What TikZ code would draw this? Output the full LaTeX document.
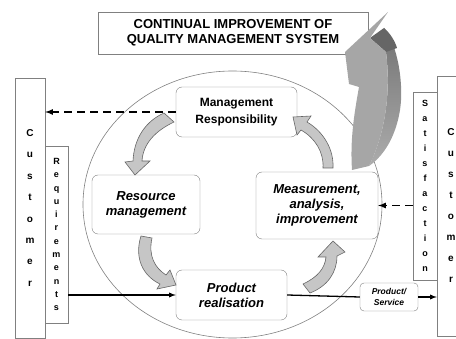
\documentclass[tikz,border=0pt]{standalone}
\usepackage{fontspec}
\setmainfont{Liberation Sans}
\begin{document}
\begin{tikzpicture}[x=1pt,y=-1pt,>=latex,
  box/.style={draw=gray,fill=white,rounded corners=6pt,align=center,
    font=\bfseries\itshape\fontsize{13}{15}\selectfont},
  bar/.style={draw=gray,fill=white,align=center,inner sep=0pt},
  garrow/.style={fill=gray!45,draw=gray!80!black,line width=0.6pt},
  dashline/.style={->,line width=1.6pt,dash pattern=on 8pt off 5pt}]
  \useasboundingbox (0,0) rectangle (456,339);
  \draw[gray,line width=0.6pt] (232.5,204.5) ellipse [x radius=149.5pt,y radius=133.5pt];
  \node[draw=gray,fill=white,minimum width=270pt,minimum height=42pt,align=center,
    font=\bfseries\fontsize{13}{15}\selectfont] (cimqms) at (233,33)
    {CONTINUAL IMPROVEMENT OF\\QUALITY MANAGEMENT SYSTEM};
  % customer columns
  \node[bar,minimum width=30pt,minimum height=260pt,font=\bfseries\fontsize{10}{21.4}\selectfont]
    (cust1) at (30,208) {C\\u\\s\\t\\o\\m\\e\\r};
  \node[bar,minimum width=23pt,minimum height=177pt,font=\bfseries\fontsize{9}{13.3}\selectfont]
    (req) at (56.5,234.5) {R\\e\\q\\u\\i\\r\\e\\m\\e\\n\\t\\s};
  \node[bar,minimum width=24pt,minimum height=188pt,font=\bfseries\fontsize{9}{15}\selectfont]
    (sat) at (425,186) {S\\a\\t\\i\\s\\f\\a\\c\\t\\i\\o\\n};
  \node[bar,minimum width=28pt,minimum height=260pt,font=\bfseries\fontsize{10}{21}\selectfont]
    (cust2) at (451,206) {C\\u\\s\\t\\o\\m\\e\\r};
  % processes
  \node[box,minimum width=121pt,minimum height=50pt,font=\bfseries\fontsize{12}{17}\selectfont]
    (mr) at (236.5,112) {Management\\Responsibility};
  \node[box,minimum width=108pt,minimum height=59pt] (rm) at (146,204.5) {Resource\\management};
  \node[box,minimum width=122pt,minimum height=67pt] (mai) at (317,205.5)
    {Measurement,\\analysis,\\improvement};
  \node[box,minimum width=111pt,minimum height=50pt] (pr) at (231.5,295) {Product\\realisation};
  \node[box,rounded corners=4pt,minimum width=58pt,minimum height=28pt,inner sep=1pt,
    font=\bfseries\itshape\fontsize{8.5}{11}\selectfont] (ps) at (389,297) {Product/\\Service};
  \draw[->,line width=1.3pt] (req.east |- pr.west) -- (pr.west);
  \draw[line width=1.3pt] (pr.east) -- (ps.west);
  \draw[->,line width=1.3pt] (ps.east) -- (cust2.west |- ps.east);
  \draw[dashline] (mr.west) -- (cust1.east |- mr.west);
  \draw[dashline] (sat.west |- mai.east) -- (mai.east);
  % cycle arrows
  \draw[garrow] (164,113) .. controls (146,121) and (134,138) .. (133,161) -- (125,162)
    -- (135,175) -- (150,161) -- (142,161) .. controls (143,144) and (155,131) .. (174,122) -- cycle;
  \draw[garrow] (141,236) .. controls (134,258) and (143,276) .. (160,284) -- (157,289)
    -- (176,285) -- (170,270) -- (166,275) .. controls (155,268) and (148,256) .. (152,238) -- cycle;
  \draw[garrow] (310,293) .. controls (328,286) and (337,272) .. (337,256) -- (345,252)
    -- (333,241) -- (318,257) -- (326,257) .. controls (325,268) and (318,277) .. (303,284) -- cycle;
  \draw[garrow] (323,168) .. controls (324,152) and (315,138) .. (301,130) -- (297,135)
    -- (293,117) -- (311,116) -- (307,122) .. controls (324,132) and (334,150) .. (333,168) -- cycle;
  % improvement arrow
  \shade[top color=black!55,bottom color=gray!65] (384,28) .. controls (398,45) and (404,85) .. (400,110)
    .. controls (396,135) and (385,155) .. (369,166) .. controls (382,140) and (392,100) .. (386,52) -- cycle;
  \fill[black!60] (370,38) -- (384,28) .. controls (390,33) and (395,41) .. (397,48) -- (386,52) -- cycle;
  \fill[gray!70] (388,12) -- (345,52) -- (349,84) -- (359,87) .. controls (354,115) and (350,140) .. (352,170)
    -- (369,166) .. controls (382,140) and (392,100) .. (386,52) -- (370,38) -- cycle;
\end{tikzpicture}
\end{document}
